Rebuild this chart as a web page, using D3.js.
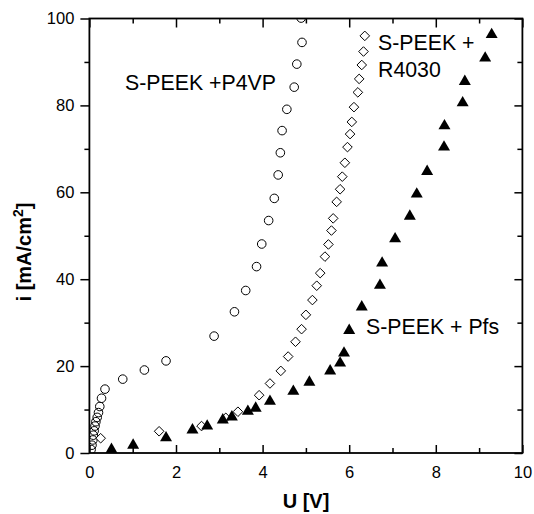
<!DOCTYPE html>
<html><head><meta charset="utf-8">
<script src="https://cdn.jsdelivr.net/npm/d3@7"></script>
<style>
body{margin:0;background:#fff;}
text{font-family:"Liberation Sans",Arial,sans-serif;}
</style></head>
<body><svg id="c" width="534" height="514"></svg>
<script>
const p4vpU = [0.04,0.06,0.08,0.09,0.11,0.13,0.15,0.18,0.21,0.24,0.28,0.36,0.77,1.27,1.77,2.88,3.35,3.61,3.86,3.98,4.14,4.27,4.36,4.41,4.45,4.56,4.73,4.79,4.91,4.89];
const p4vpI = [0.8,1.8,3.0,4.1,5.1,6.2,7.2,8.2,9.3,10.7,12.6,14.7,17.0,19.1,21.2,26.9,32.5,37.4,42.9,48.1,53.5,58.6,64.0,69.1,74.2,79.1,84.2,89.5,94.5,100.1];
const r4030U = [0.26,1.61,2.59,3.15,3.43,3.92,4.17,4.42,4.59,4.76,4.90,5.00,5.15,5.25,5.33,5.44,5.52,5.59,5.63,5.71,5.79,5.84,5.90,5.96,6.02,6.06,6.11,6.20,6.23,6.29,6.33,6.36];
const r4030I = [3.4,5.0,6.2,8.1,9.5,13.3,16.0,18.9,22.2,25.6,28.5,31.8,35.2,38.5,41.4,45.2,48.0,51.2,54.0,57.8,60.7,63.6,66.8,70.4,73.4,76.2,79.6,83.0,86.1,89.3,92.4,96.0];
const pfsU = [0.51,1.01,1.77,2.38,2.72,3.08,3.29,3.66,3.84,4.17,4.71,5.08,5.56,5.79,5.88,6.00,6.29,6.71,6.76,7.06,7.40,7.56,7.80,8.19,8.20,8.62,8.67,9.14,9.29];
const pfsI = [1.1,2.1,3.8,5.6,6.5,7.9,8.6,9.9,10.6,12.2,14.5,16.6,19.2,21.0,23.3,28.5,33.9,38.9,44.0,49.6,54.8,59.9,65.1,70.7,75.6,80.9,85.8,91.2,96.6];
const xMajor = [0,2,4,6,8,10];
const xMinor = [1,3,5,7,9];
const yMajor = [0,20,40,60,80,100];
const yMinor = [10,30,50,70,90];

const svg = d3.select("#c");
const L=89.4, R=522.4, T=18.5, B=453;
const x = d3.scaleLinear().domain([0,10]).range([L,R]);
const y = d3.scaleLinear().domain([0,100]).range([B,T]);

svg.append("defs").append("clipPath").attr("id","clip")
  .append("rect").attr("x",L).attr("y",T).attr("width",R-L).attr("height",B-T);

function style(g){ g.select(".domain").remove(); g.selectAll("line").attr("stroke","#000").attr("stroke-width",1.5); g.selectAll("text").attr("font-size",16.5).attr("fill","#000").attr("font-family","Liberation Sans, Arial, sans-serif"); }

svg.append("g").attr("transform",`translate(0,${B})`).call(d3.axisBottom(x).tickValues(xMajor).tickSize(-8).tickPadding(13).tickFormat(d3.format("d"))).call(style);
svg.append("g").attr("transform",`translate(0,${B})`).call(d3.axisBottom(x).tickValues(xMinor).tickSize(-5).tickFormat("")).call(style);
svg.append("g").attr("transform",`translate(0,${T})`).call(d3.axisTop(x).tickValues(xMajor).tickSize(-9).tickFormat("")).call(style);
svg.append("g").attr("transform",`translate(0,${T})`).call(d3.axisTop(x).tickValues(xMinor).tickSize(-5).tickFormat("")).call(style);
svg.append("g").attr("transform",`translate(${L},0)`).call(d3.axisLeft(y).tickValues(yMajor).tickSize(9).tickPadding(6).tickFormat(d3.format("d"))).call(style);
svg.append("g").attr("transform",`translate(${L},0)`).call(d3.axisLeft(y).tickValues(yMinor).tickSize(5).tickFormat("")).call(style);
svg.append("g").attr("transform",`translate(${R},0)`).call(d3.axisRight(y).tickValues(yMajor).tickSize(-8).tickFormat("")).call(style);
svg.append("g").attr("transform",`translate(${R},0)`).call(d3.axisRight(y).tickValues(yMinor).tickSize(-5).tickFormat("")).call(style);

svg.append("rect").attr("x",L).attr("y",T).attr("width",R-L).attr("height",B-T)
  .attr("fill","none").attr("stroke","#000").attr("stroke-width",1.8);

const pts = svg.append("g").attr("clip-path","url(#clip)");
const circ = p4vpU.map((u,i)=>({u,i:p4vpI[i]}));
const dia = r4030U.map((u,i)=>({u,i:r4030I[i]}));
const tri = pfsU.map((u,i)=>({u,i:pfsI[i]}));

pts.selectAll(".c").data(circ).join("circle")
  .attr("cx",d=>x(d.u)).attr("cy",d=>y(d.i)).attr("r",4.3)
  .attr("fill","none").attr("stroke","#000").attr("stroke-width",1);
pts.selectAll(".d").data(dia).join("path")
  .attr("transform",d=>`translate(${x(d.u)},${y(d.i)})`)
  .attr("d","M0,-4.8L4.8,0L0,4.8L-4.8,0Z")
  .attr("fill","#fff").attr("stroke","#000").attr("stroke-width",1);
pts.selectAll(".t").data(tri).join("path")
  .attr("transform",d=>`translate(${x(d.u)},${y(d.i)})`)
  .attr("d","M0,-5.6L6,4.8L-6,4.8Z")
  .attr("fill","#000");

const ann = svg.append("g").attr("font-size",21.3).attr("fill","#000");
ann.append("text").attr("x",125).attr("y",90).text("S-PEEK +P4VP");
ann.append("text").attr("x",378).attr("y",50).text("S-PEEK +");
ann.append("text").attr("x",378).attr("y",77).text("R4030");
ann.append("text").attr("x",366).attr("y",334).text("S-PEEK + Pfs");

svg.append("text").attr("x",306).attr("y",508).attr("text-anchor","middle")
  .attr("font-size",20).attr("font-weight","bold").text("U [V]");
const yl = svg.append("text").attr("transform","translate(31,252) rotate(-90)")
  .attr("text-anchor","middle").attr("font-size",20).attr("font-weight","bold");
yl.append("tspan").text("i [mA/cm");
yl.append("tspan").attr("font-size",14).attr("dy",-8).text("2");
yl.append("tspan").attr("dy",8).text("]");
</script></body></html>
